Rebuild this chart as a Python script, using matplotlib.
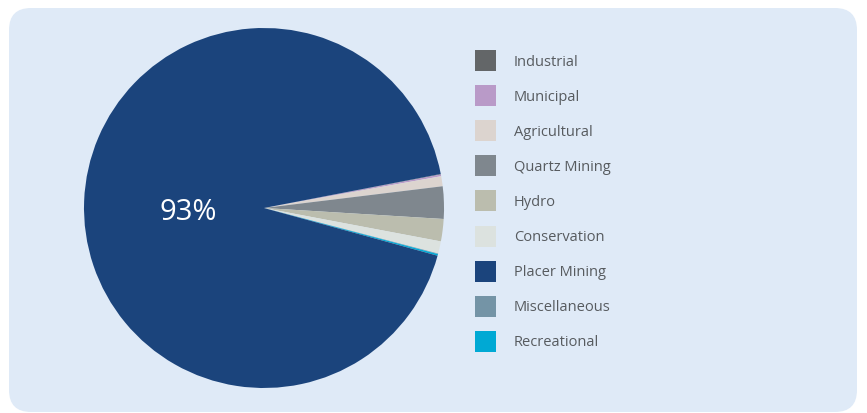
import matplotlib.pyplot as plt
from matplotlib.patches import FancyBboxPatch, Rectangle

# Water use by sector (percent of total)
sectors = ["Industrial", "Municipal", "Agricultural", "Quartz Mining", "Hydro",
           "Conservation", "Placer Mining", "Miscellaneous", "Recreational"]
shares = [0.05, 0.15, 0.9, 2.9, 2.0, 1.1, 92.7, 0.05, 0.15]
colours = ["#636668", "#b99ac8", "#dcd4cf", "#7f878e", "#bbbdae",
           "#dce2df", "#1b447c", "#7494a6", "#00a9d4"]

# order the wedges run round the pie (clockwise from the top of the small slices)
pie_order = ["Industrial", "Municipal", "Agricultural", "Quartz Mining", "Hydro",
             "Conservation", "Miscellaneous", "Recreational", "Placer Mining"]

W, H = 867, 413
fig = plt.figure(figsize=(W / 100, H / 100), dpi=100)
fig.patch.set_facecolor("white")

# rounded panel behind everything, drawn in pixel coordinates
bg = fig.add_axes([0, 0, 1, 1])
bg.set_xlim(0, W)
bg.set_ylim(H, 0)
bg.axis("off")
bg.add_patch(FancyBboxPatch((9, 8), 848, 404, boxstyle="round,pad=0,rounding_size=22",
                            facecolor="#dfeaf7", edgecolor="none"))

# legend swatches and labels
for i, (name, col) in enumerate(zip(sectors, colours)):
    yc = 60.5 + i * 35.1
    bg.add_patch(Rectangle((475, yc - 10.5), 21, 21, facecolor=col, edgecolor="none"))
    bg.text(514, yc + 1.5, name, va="center", ha="left", fontsize=10.5,
            family="Open Sans", color="#575b5f")

# pie: centre (264, 208) px, radius 180 px
cx, cy, r = 264, 208, 180
ax = fig.add_axes([(cx - r) / W, (H - cy - r) / H, 2 * r / W, 2 * r / H])
idx = [sectors.index(s) for s in pie_order]
ax.pie([shares[i] for i in idx], colors=[colours[i] for i in idx],
       startangle=10.9, counterclock=False,
       wedgeprops=dict(linewidth=0))
ax.set_xlim(-1, 1)
ax.set_ylim(-1, 1)
ax.set_aspect("equal")

placer = shares[sectors.index("Placer Mining")]
ax.text(-0.42, -0.025, f"{placer:.0f}%", color="white", fontsize=21,
        family="Open Sans", ha="center", va="center")

fig.savefig("out.png", dpi=100, facecolor=fig.get_facecolor())
